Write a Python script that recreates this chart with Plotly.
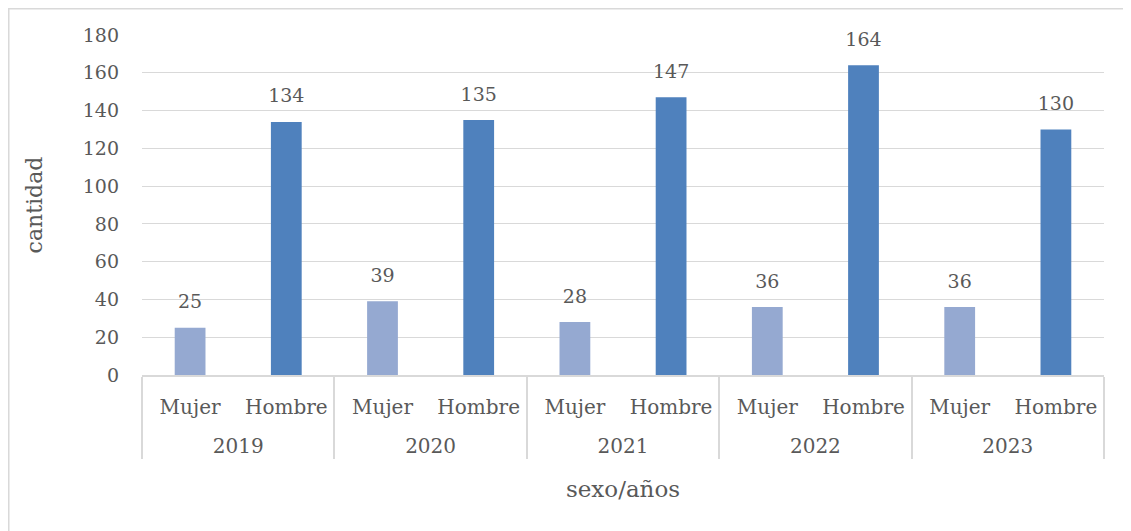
import plotly.graph_objects as go

# datos
years = ["2019", "2020", "2021", "2022", "2023"]
sexes = ["Mujer", "Hombre"]
mujer = [25, 39, 28, 36, 36]
hombre = [134, 135, 147, 164, 130]

x_outer, x_inner, vals, colors = [], [], [], []
for i, y in enumerate(years):
    x_outer += ["<br>" + y, "<br>" + y]
    x_inner += sexes
    vals += [mujer[i], hombre[i]]
    colors += ["#95A9D1", "#4F81BD"]

font_fam = "DejaVu Serif"
grey = "#595959"

fig = go.Figure()
fig.add_trace(go.Bar(
    x=[x_outer, x_inner],
    y=vals,
    marker=dict(color=colors, line=dict(width=0)),
    width=0.32,
    hoverinfo="y",
))
# etiquetas de datos encima de las barras (marcador invisible para separarlas)
fig.add_trace(go.Scatter(
    x=[x_outer, x_inner],
    y=vals,
    mode="markers+text",
    text=vals,
    textposition="top center",
    textfont=dict(family=font_fam, size=19, color=grey),
    marker=dict(size=22, opacity=0),
    cliponaxis=False,
    hoverinfo="skip",
))

# la página añade 8px de margen, se compensa aquí
fig.update_layout(
    width=1131, height=531,
    margin=dict(l=134, r=35, t=27, b=164),
    paper_bgcolor="white", plot_bgcolor="white",
    font=dict(family=font_fam, size=19, color=grey),
    showlegend=False,
)

fig.update_xaxes(
    type="multicategory", automargin=False,
    range=[-0.5, len(vals) - 0.5],
    showline=True, linecolor="#D9D9D9", linewidth=1.5,
    showdividers=True, dividercolor="#D9D9D9", dividerwidth=1.5,
    ticks="", tickfont=dict(size=20, color=grey), ticklabelstandoff=13,
    title=dict(text="sexo/años", font=dict(size=23, color=grey), standoff=24),
)
fig.update_yaxes(
    range=[0, 180], dtick=20, automargin=False,
    showgrid=True, gridcolor="#D9D9D9", gridwidth=1.2,
    zeroline=False, showline=False, ticks="",
    tickfont=dict(size=19, color=grey), ticklabelstandoff=22,
    title=dict(text="cantidad", font=dict(size=22, color=grey), standoff=34),
)

# borde del área del gráfico
fig.add_shape(type="rect", xref="paper", yref="paper",
              x0=-0.1385, x1=1.05, y0=-0.6, y1=1.0772,
              line=dict(color="#D9D9D9", width=1.5), fillcolor="rgba(0,0,0,0)",
              layer="below")

fig.write_html("out.html")
